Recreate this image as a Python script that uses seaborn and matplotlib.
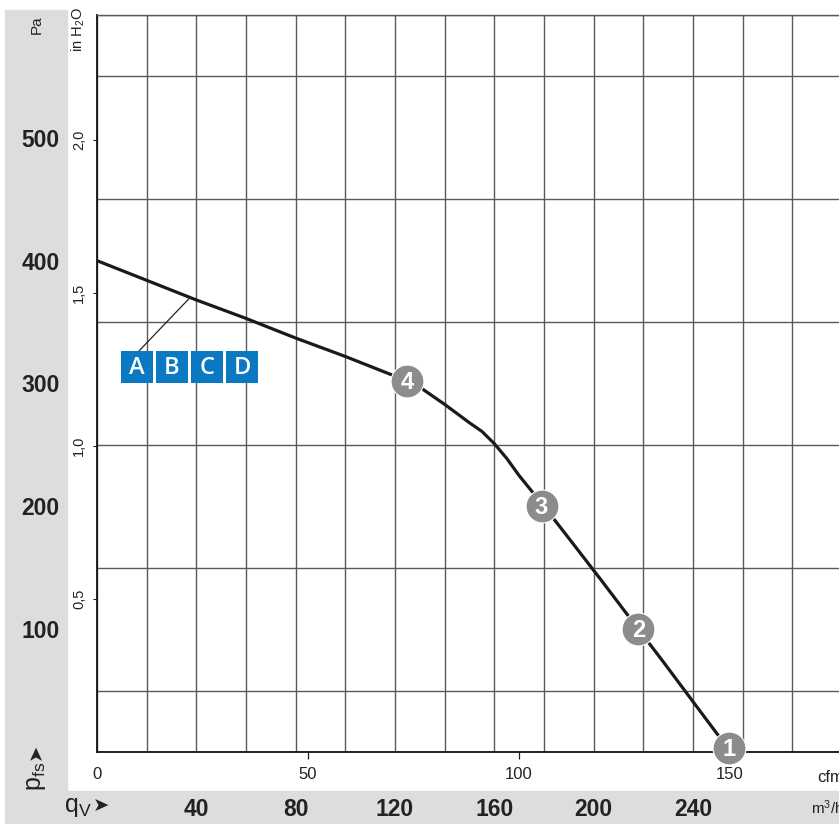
import matplotlib
matplotlib.use('Agg')
import matplotlib.pyplot as plt
import matplotlib.patches as mpatches
from matplotlib.ticker import FuncFormatter
import seaborn as sns
import numpy as np

# ---- data: fan curve (flow in m3/h, static pressure in Pa) ----
flow_m3h = [0, 20, 40, 60, 80, 100, 110, 120, 125, 130, 140, 150, 155, 160, 165, 170, 180, 190,
            203, 218, 228, 240, 250, 254.6]
pressure_pa = [400, 384, 368, 353, 337, 322, 314, 306, 302, 297, 283, 268, 261, 251, 239, 225, 200, 174,
               140, 100, 73.5, 41, 14, 3]

# operating points
op_labels = ['1', '2', '3', '4']
op_flow = [254.6, 218, 179, 125]
op_pressure = [3, 100, 200, 302]

curve_tags = ['A', 'B', 'C', 'D']

pa_ticks = [100, 200, 300, 400, 500]
m3h_ticks = [40, 80, 120, 160, 200, 240]
cfm_ticks = [0, 50, 100, 150]
inh2o_ticks = [0.5, 1.0, 1.5, 2.0]

# ---- style ----
sns.set_theme(style='white')
plt.rcParams['font.family'] = ['Liberation Sans Narrow', 'Liberation Sans', 'DejaVu Sans']
plt.rcParams['mathtext.default'] = 'regular'

W, H = 839, 824
BAND = '#dcdddf'
GRID = '#5a5a5a'
BLUE = '#0a79c1'
MARK = '#8c8c8c'
INK = '#222222'


def fx(x):
    return x / W


def fy(y):
    return 1 - y / H


fig = plt.figure(figsize=(W / 100, H / 100), dpi=100)
fig.patch.set_facecolor('white')

# gray label bands (behind everything)
fig.patches.append(mpatches.Rectangle((fx(5), fy(791)), fx(62), (791 - 10) / H,
                                      transform=fig.transFigure, color=BAND, zorder=-5))
fig.patches.append(mpatches.Rectangle((fx(5), 0), fx(834), (824 - 791) / H,
                                      transform=fig.transFigure, color=BAND, zorder=-5))

ax = fig.add_axes([fx(97), fy(752), (842 - 97) / W, (752 - 15) / H])
ax.set_xlim(0, 300)
ax.set_ylim(0, 600)

# grid
ax.set_xticks(np.arange(0, 301, 20), minor=True)
ax.set_yticks(np.arange(0, 601, 50), minor=True)
ax.grid(which='minor', color=GRID, linewidth=1.0)
ax.set_xticks([])
ax.set_yticks(pa_ticks)
ax.tick_params(axis='y', which='both', length=0, pad=27, labelsize=16.5, labelcolor=INK)
for t in ax.get_yticklabels():
    t.set_fontweight('bold')
ax.tick_params(axis='x', which='minor', length=0)
for s in ['left', 'bottom']:
    ax.spines[s].set_color('#111111')
    ax.spines[s].set_linewidth(1.3)
ax.spines['top'].set_color(GRID)
ax.spines['top'].set_linewidth(1.0)
ax.spines['right'].set_visible(False)

# curve
sns.lineplot(x=flow_m3h, y=pressure_pa, ax=ax, color='#1a1a1a', linewidth=2.3, sort=False, zorder=3)

# operating points
sns.scatterplot(x=op_flow, y=op_pressure, ax=ax, s=560, color=MARK, edgecolor='white',
                linewidth=0.8, zorder=4, clip_on=False, legend=False)
for lab, xv, yv in zip(op_labels, op_flow, op_pressure):
    ax.text(xv, yv - 1, lab, ha='center', va='center', color='white', fontsize=17,
            fontweight='bold', zorder=5, clip_on=False)

# A B C D tags with leader line
box_w, box_h = 12.9, 26.0
tag_x0, tag_dx, tag_y = 16.1, 14.1, 313.5
line_x = 37.5
line_y = np.interp(line_x, flow_m3h, pressure_pa)
ax.plot([tag_x0 + 0.8, line_x], [tag_y + box_h / 2, line_y], color=INK, linewidth=0.9, zorder=3)
for i, tag in enumerate(curve_tags):
    cx = tag_x0 + i * tag_dx
    ax.add_patch(mpatches.Rectangle((cx - box_w / 2, tag_y - box_h / 2), box_w, box_h,
                                    facecolor=BLUE, edgecolor='none', zorder=5))
    ax.text(cx, tag_y - 0.5, tag, ha='center', va='center', color='white', fontsize=17,
            fontweight='semibold', family=['Open Sans', 'DejaVu Sans'], zorder=6)

# secondary axes: cfm and m3/h
cfm = ax.secondary_xaxis('bottom', functions=(lambda m: m / 1.699, lambda c: c * 1.699))
cfm.set_xticks(cfm_ticks)
cfm.tick_params(length=5, width=0.9, pad=6, labelsize=12, colors=INK)
cfm.spines['bottom'].set_visible(False)
cfm.xaxis.get_major_ticks()[0].tick1line.set_visible(False)

m3h = ax.secondary_xaxis(-(797 - 752) / (752 - 15))
m3h.set_xticks(m3h_ticks)
m3h.tick_params(length=0, pad=1, labelsize=16.5, colors=INK)
for t in m3h.get_xticklabels():
    t.set_fontweight('bold')
m3h.spines['bottom'].set_visible(False)

inh = ax.secondary_yaxis('left', functions=(lambda p: p / 249.09, lambda v: v * 249.09))
inh.set_yticks(inh2o_ticks)
inh.yaxis.set_major_formatter(FuncFormatter(lambda v, _: f'{v:.1f}'.replace('.', ',')))
inh.tick_params(length=3, width=0.8, pad=5, labelsize=10.5, colors=INK)
for t in inh.get_yticklabels():
    t.set_rotation(90)
    t.set_va('center')
inh.spines['left'].set_visible(False)

# axis titles / units
fig.text(fx(37), fy(25), 'Pa', rotation=90, ha='center', va='center', fontsize=11, color=INK)
fig.text(fx(78), fy(30), 'in H$_2$O', rotation=90, ha='center', va='center', fontsize=10.5, color=INK)
fig.text(fx(36), fy(776), 'p$_{fs}$', rotation=90, ha='center', va='center', fontsize=18, color=INK)
fig.text(fx(36), fy(752), '➤', rotation=90, ha='center', va='center', fontsize=14,
         family=['DejaVu Sans'], color=INK)
fig.text(fx(78), fy(807), 'q$_V$', ha='center', va='center', fontsize=18, color=INK)
fig.text(fx(101), fy(806), '➤', ha='center', va='center', fontsize=14,
         family=['DejaVu Sans'], color=INK)
fig.text(fx(817), fy(778), 'cfm', ha='left', va='center', fontsize=12, color=INK)
fig.text(fx(811), fy(808), 'm$^3$/h', ha='left', va='center', fontsize=11, color=INK)

fig.savefig('out.png', dpi=100, facecolor='white')
